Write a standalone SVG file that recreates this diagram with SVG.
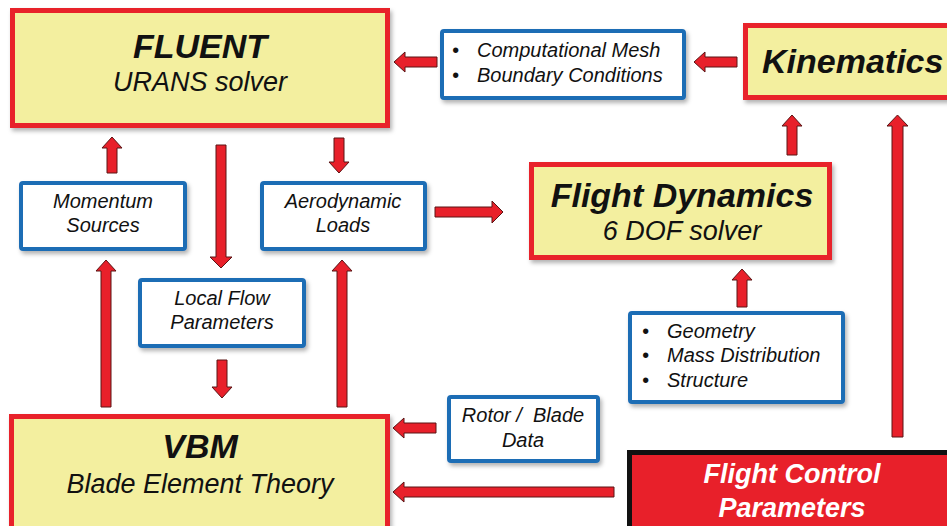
<svg xmlns="http://www.w3.org/2000/svg" width="947" height="526" viewBox="0 0 947 526">
<defs>
<filter id="sh" x="-10%" y="-10%" width="120%" height="130%">
<feDropShadow dx="2" dy="3" stdDeviation="2" flood-color="#000" flood-opacity="0.3"/>
</filter>
<style>
.main{fill:#F3EF9F;stroke:#E8202A;stroke-width:5;filter:url(#sh)}
.info{fill:#fff;stroke:#1F6DB5;stroke-width:4;filter:url(#sh)}
.ctrl{fill:#E8202A;stroke:#111;stroke-width:5}
.arr{fill:#E8202A;stroke:#5A1414;stroke-width:1}
text{font-family:"Liberation Sans",Arial,sans-serif;font-style:italic;fill:#111}
.t1{font-size:34px;font-weight:bold;text-anchor:middle}
.t2{font-size:27px;text-anchor:middle}
.t3{font-size:20px;text-anchor:middle}
.tl{font-size:20px}
.w{fill:#fff;font-size:27px;font-weight:bold;text-anchor:middle}
</style>
</defs>
<rect width="947" height="526" fill="#fff"/>

<g id="connectors">
<!-- mesh -> FLUENT -->
<polygon class="arr" points="437,57 405,57 405,52 394,62 405,72 405,67 437,67"/>
<!-- Kinematics -> mesh -->
<polygon class="arr" points="737,57 705,57 705,52 694,62 705,72 705,67 737,67"/>
<!-- Flight Dynamics -> Kinematics -->
<polygon class="arr" points="787,155 787,126 782,126 792,115 802,126 797,126 797,155"/>
<!-- Flight Control -> Kinematics -->
<polygon class="arr" points="892,437 892,126 887,126 897.5,115 908,126 903,126 903,437"/>
<!-- Momentum -> FLUENT -->
<polygon class="arr" points="107,173 107,148 102,148 112,137 122,148 117,148 117,173"/>
<!-- FLUENT -> Local Flow -->
<polygon class="arr" points="216,145 216,257 210,257 221,268 232,257 226,257 226,145"/>
<!-- FLUENT -> Aerodynamic -->
<polygon class="arr" points="334,138 334,162 329,162 339,173 349,162 344,162 344,138"/>
<!-- Aerodynamic -> Flight Dynamics -->
<polygon class="arr" points="435,207 492,207 492,201 503,212 492,223 492,217 435,217"/>
<!-- Geometry -> Flight Dynamics -->
<polygon class="arr" points="737,307 737,280 732,280 742,269 752,280 747,280 747,307"/>
<!-- VBM -> Momentum -->
<polygon class="arr" points="101,407 101,271 96,271 106,260 116,271 111,271 111,407"/>
<!-- VBM -> Aerodynamic -->
<polygon class="arr" points="337,407 337,271 332,271 342,260 352,271 347,271 347,407"/>
<!-- Local Flow -> VBM -->
<polygon class="arr" points="217,360 217,387 212,387 222,398 232,387 227,387 227,360"/>
<!-- Rotor -> VBM -->
<polygon class="arr" points="436,423 404,423 404,418 393,428 404,438 404,433 436,433"/>
<!-- Flight Control -> VBM -->
<polygon class="arr" points="614,487 404,487 404,482 393,492 404,502 404,497 614,497"/>
</g>

<g id="fluent">
<rect class="main" x="12.5" y="10.5" width="375" height="115"/>
<text class="t1" x="200" y="58">FLUENT</text>
<text class="t2" x="200" y="91">URANS solver</text>
</g>

<g id="mesh">
<rect class="info" x="442" y="31" width="242" height="67" rx="2"/>
<text class="tl" x="452" y="57">•</text>
<text class="tl" x="477" y="57">Computational Mesh</text>
<text class="tl" x="452" y="82">•</text>
<text class="tl" x="477" y="82">Boundary Conditions</text>
</g>

<g id="kinematics">
<rect class="main" x="745.5" y="25.5" width="220" height="72"/>
<text class="t1" x="762" y="73" style="text-anchor:start">Kinematics</text>
</g>

<g id="momentum">
<rect class="info" x="21" y="183" width="164" height="66" rx="2"/>
<text class="t3" x="103" y="208">Momentum</text>
<text class="t3" x="103" y="232">Sources</text>
</g>

<g id="aero">
<rect class="info" x="262" y="183" width="163" height="66" rx="2"/>
<text class="t3" x="343" y="208">Aerodynamic</text>
<text class="t3" x="343" y="232">Loads</text>
</g>

<g id="flightdyn">
<rect class="main" x="531.5" y="164.5" width="298" height="93"/>
<text class="t1" x="682" y="207">Flight Dynamics</text>
<text class="t2" x="682" y="240">6 DOF solver</text>
</g>

<g id="localflow">
<rect class="info" x="140" y="280" width="164" height="66" rx="2"/>
<text class="t3" x="222" y="305">Local Flow</text>
<text class="t3" x="222" y="329">Parameters</text>
</g>

<g id="geometry">
<rect class="info" x="630" y="313" width="213" height="89" rx="2"/>
<text class="tl" x="642" y="338">•</text>
<text class="tl" x="667" y="338">Geometry</text>
<text class="tl" x="642" y="362">•</text>
<text class="tl" x="667" y="362">Mass Distribution</text>
<text class="tl" x="642" y="387">•</text>
<text class="tl" x="667" y="387">Structure</text>
</g>

<g id="vbm">
<rect class="main" x="11.5" y="416.5" width="376" height="130"/>
<text class="t1" x="200" y="458">VBM</text>
<text class="t2" x="200" y="493">Blade Element Theory</text>
</g>

<g id="rotor">
<rect class="info" x="449" y="397" width="149" height="64" rx="2"/>
<text class="t3" x="523" y="422" xml:space="preserve">Rotor /  Blade</text>
<text class="t3" x="523" y="447">Data</text>
</g>

<g id="flightcontrol">
<rect class="ctrl" x="629.5" y="452.5" width="340" height="100"/>
<text class="w" x="792" y="483">Flight Control</text>
<text class="w" x="792" y="517">Parameters</text>
</g>
</svg>
